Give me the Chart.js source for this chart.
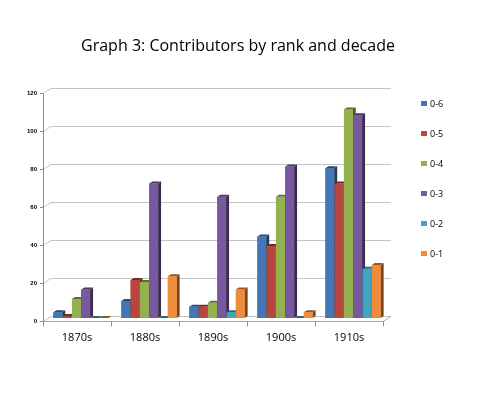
<!DOCTYPE html>
<html><head><meta charset="utf-8">
<script src="https://cdn.jsdelivr.net/npm/chart.js@4/dist/chart.umd.min.js"></script>
<style>html,body{margin:0;padding:0;background:#fff}</style></head>
<body>
<canvas id="c" width="491" height="393" style="display:block;width:491px;height:393px"></canvas>
<script>
const titleText = 'Graph 3: Contributors by rank and decade';
const categories = ['1870s', '1880s', '1890s', '1900s', '1910s'];
const seriesLabels = ['0-6', '0-5', '0-4', '0-3', '0-2', '0-1'];
const s06 = [3, 9, 6, 43, 79];
const s05 = [1, 20, 6, 38, 71];
const s04 = [10, 19, 8, 64, 110];
const s03 = [15, 71, 64, 80, 107];
const s02 = [0, 0, 3, 0, 26];
const s01 = [0, 22, 15, 3, 28];
const yTickValues = [0, 20, 40, 60, 80, 100, 120];
const seriesColors = ['#4276B6', '#B9453F', '#93B24F', '#7859A0', '#41A5C1', '#EE8C3C'];

const seriesValues = [s06, s05, s04, s03, s02, s01];

function shade(hex, f) {
  const n = parseInt(hex.slice(1), 16);
  let r = (n >> 16) & 255, g = (n >> 8) & 255, b = n & 255;
  const m = v => Math.max(0, Math.min(255, Math.round(f <= 1 ? v * f : v + (255 - v) * (f - 1))));
  return `rgb(${m(r)},${m(g)},${m(b)})`;
}

const DX = 4, DY = -2.5;   // half wall depth offset
const BD = 3, BE = -2;      // bar depth offset

const threeD = {
  id: 'threeD',
  beforeDatasetsDraw(chart) {
    const ctx = chart.ctx, y = chart.scales.y, a = chart.chartArea;
    ctx.save();
    ctx.lineWidth = 1;
    yTickValues.forEach(v => {
      const py = y.getPixelForValue(v);
      const by = Math.round(py + DY) + 0.5, fy = Math.round(py - DY) + 0.5;
      ctx.strokeStyle = '#C4C4C4';
      ctx.beginPath();
      ctx.moveTo(a.left - DX, fy);
      ctx.lineTo(a.left + DX, by);
      ctx.lineTo(a.right + DX, by);
      ctx.stroke();
      ctx.strokeStyle = '#8C8C8C';
      ctx.beginPath();
      ctx.moveTo(a.left - DX - 3, fy);
      ctx.lineTo(a.left - DX, fy);
      ctx.stroke();
    });
    const p0 = y.getPixelForValue(0);
    const ffy = Math.round(p0 - DY) + 0.5, fby = Math.round(p0 + DY) + 0.5;
    ctx.strokeStyle = '#8C8C8C';
    ctx.beginPath();
    ctx.moveTo(Math.round(a.left - DX) + 0.5, ffy);
    ctx.lineTo(Math.round(a.left - DX) + 0.5, Math.round(y.getPixelForValue(120) - DY) + 0.5);
    ctx.stroke();
    ctx.strokeStyle = '#A8A8A8';
    ctx.beginPath();
    ctx.moveTo(a.left - DX, ffy);
    ctx.lineTo(a.right - DX, ffy);
    ctx.lineTo(a.right + DX, fby);
    ctx.stroke();
    ctx.strokeStyle = '#8C8C8C';
    const cw = a.width / categories.length;
    for (let i = 0; i <= categories.length; i++) {
      const px = Math.round(a.left + i * cw - DX) + 0.5;
      ctx.beginPath();
      ctx.moveTo(px, ffy);
      ctx.lineTo(px, ffy + 5);
      ctx.stroke();
    }
    ctx.restore();
  },
  afterDatasetsDraw(chart) {
    const ctx = chart.ctx;
    const items = [];
    chart.data.datasets.forEach((ds, di) => {
      const meta = chart.getDatasetMeta(di);
      meta.data.forEach(bar => {
        const p = bar.getProps(['x', 'y', 'base', 'width'], true);
        items.push({ bar, p, color: seriesColors[di] });
      });
    });
    items.sort((u, v) => u.p.x - v.p.x);
    ctx.save();
    items.forEach(({ bar, p, color }) => {
      const l = p.x - p.width / 2, r = p.x + p.width / 2, t = Math.min(p.y, p.base), b = p.base;
      ctx.fillStyle = shade(color, 0.5);
      ctx.beginPath();
      ctx.moveTo(r, t); ctx.lineTo(r + BD, t + BE); ctx.lineTo(r + BD, b + BE); ctx.lineTo(r, b);
      ctx.closePath(); ctx.fill();
      ctx.fillStyle = shade(color, 0.62);
      ctx.beginPath();
      ctx.moveTo(l, t); ctx.lineTo(l + BD, t + BE); ctx.lineTo(r + BD, t + BE); ctx.lineTo(r, t);
      ctx.closePath(); ctx.fill();
      bar.draw(ctx, chart.chartArea);
    });
    ctx.restore();
  },
  afterDraw(chart) {
    const ctx = chart.ctx;
    ctx.save();
    ctx.fillStyle = '#000';
    ctx.textBaseline = 'alphabetic';
    ctx.textAlign = 'center';
    ctx.font = '16px "Open Sans", sans-serif';
    ctx.fillText(titleText, 238, 51);
    ctx.textAlign = 'left';
    ctx.font = '9px "Open Sans", sans-serif';
    seriesLabels.forEach((lab, i) => {
      const cy = 103 + i * 30;
      ctx.fillStyle = seriesColors[i];
      ctx.fillRect(421, cy - 2, 6, 5);
      ctx.fillStyle = '#000';
      ctx.fillText(lab, 430, cy + 3.5);
    });
    ctx.restore();
  }
};

new Chart(document.getElementById('c'), {
  type: 'bar',
  data: {
    labels: categories,
    datasets: seriesLabels.map((lab, i) => ({
      label: lab,
      data: seriesValues[i],
      backgroundColor: seriesColors[i],
      borderWidth: 0,
      categoryPercentage: 0.82,
      barPercentage: 0.95
    }))
  },
  options: {
    responsive: false,
    animation: false,
    devicePixelRatio: 1,
    layout: { padding: { left: 0, right: 104, top: 90.6, bottom: 0 } },
    plugins: { legend: { display: false }, title: { display: false }, tooltip: { enabled: false } },
    scales: {
      x: {
        grid: { display: false, drawTicks: false },
        border: { display: false },
        ticks: { color: '#000', font: { family: '"Open Sans", sans-serif', size: 11 }, padding: 13, labelOffset: -4, maxRotation: 0 },
        afterFit(s) { s.height = 75; }
      },
      y: {
        min: 0, max: 120,
        afterBuildTicks(s) { s.ticks = yTickValues.map(v => ({ value: v })); },
        grid: { display: false, drawTicks: false },
        border: { display: false },
        ticks: { color: '#000', font: { family: '"Liberation Sans", sans-serif', size: 6, weight: 'bold' }, padding: 10, labelOffset: 3 },
        afterFit(s) { s.width = 47; }
      }
    }
  },
  plugins: [threeD]
});
</script>
</body></html>
